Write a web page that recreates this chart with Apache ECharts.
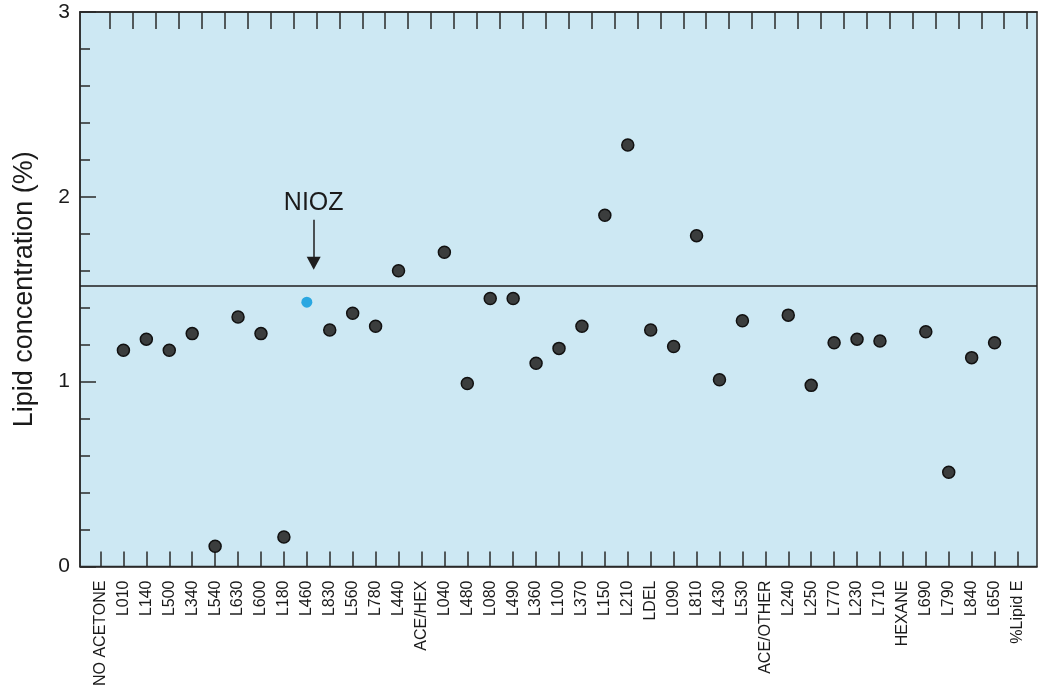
<!DOCTYPE html>
<html>
<head>
<meta charset="utf-8">
<title>Lipid concentration</title>
<script src="https://cdn.jsdelivr.net/npm/echarts@6/dist/echarts.min.js"></script>
<style>
  html, body { margin: 0; padding: 0; background: #fff; }
  #chart { width: 1039px; height: 689px; }
</style>
</head>
<body>
<div id="chart"></div>
<script>
// sample names along the x axis
const categories = ['NO ACETONE', 'L010', 'L140', 'L500', 'L340', 'L540', 'L630', 'L600', 'L180',
    'L460', 'L830', 'L560', 'L780', 'L440', 'ACE/HEX', 'L040', 'L480', 'L080', 'L490', 'L360',
    'L100', 'L370', 'L150', 'L210', 'LDEL', 'L090', 'L810', 'L430', 'L530', 'ACE/OTHER', 'L240',
    'L250', 'L770', 'L230', 'L710', 'HEXANE', 'L690', 'L790', 'L840', 'L650', '%Lipid E'];

// lipid concentration (%) per sample, null = no point (group headers)
const lipidValues = [null, 1.17, 1.23, 1.17, 1.26, 0.11, 1.35, 1.26, 0.16,
    1.43, 1.28, 1.37, 1.30, 1.60, null, 1.70, 0.99, 1.45, 1.45, 1.10,
    1.18, 1.30, 1.90, 2.28, 1.28, 1.19, 1.79, 1.01, 1.33, null, 1.36,
    0.98, 1.21, 1.23, 1.22, null, 1.27, 0.51, 1.13, 1.21, null];

const yTicks = [0, 1, 2, 3];
const referenceLevel = 1.525;   // horizontal line
const highlighted = 'L460';     // NIOZ sample
const arrowFrom = 1.876;
const arrowTo = 1.64;

const chart = echarts.init(document.getElementById('chart'));

const points = [];
lipidValues.forEach((v, i) => {
    if (v === null) return;
    const item = { value: [i, v] };
    if (categories[i] === highlighted) {
        item.itemStyle = { color: '#2aa7e1', borderWidth: 0 };
        item.symbolSize = 11;
    }
    points.push(item);
});

const idx = categories.map((c, i) => i);
const hi = categories.indexOf(highlighted);
const font = '"Liberation Sans", Arial, sans-serif';

const option = {
    animation: false,
    textStyle: { fontFamily: font },
    grid: {
        left: 80, top: 12, right: 2, bottom: 119,
        show: true,
        backgroundColor: '#cde8f3',
        borderColor: '#2a2a2a',
        borderWidth: 1.5
    },
    xAxis: [
        {
            type: 'value',
            position: 'bottom',
            min: -0.894,
            max: 40.85,
            splitLine: { show: false },
            axisLine: { show: true, onZero: false, lineStyle: { color: '#2a2a2a', width: 1.5 } },
            axisTick: {
                show: true, inside: true, length: 15, customValues: idx,
                lineStyle: { color: '#2a2a2a', width: 1.5 }
            },
            axisLabel: {
                customValues: idx,
                rotate: 90,
                margin: 14,
                fontSize: 16,
                color: '#1a1a1a',
                formatter: v => categories[Math.round(v)]
            }
        },
        {
            type: 'value',
            position: 'top',
            min: -0.894,
            max: 40.85,
            splitLine: { show: false },
            axisLine: { show: true, onZero: false, lineStyle: { color: '#2a2a2a', width: 1.5 } },
            axisTick: {
                show: true, inside: true, length: 17, customValues: idx.map(i => i + 0.42),
                lineStyle: { color: '#2a2a2a', width: 1.5 }
            },
            axisLabel: { show: false }
        }
    ],
    yAxis: {
        type: 'value',
        min: 0,
        max: 3,
        interval: 1,
        name: 'Lipid concentration (%)',
        nameLocation: 'middle',
        nameGap: 42,
        nameTextStyle: { fontSize: 27, color: '#1a1a1a', fontFamily: font },
        splitLine: { show: false },
        axisLine: { show: true, onZero: false, lineStyle: { color: '#2a2a2a', width: 1.5 } },
        axisTick: { show: true, inside: true, length: 16, lineStyle: { color: '#2a2a2a', width: 1.5 } },
        minorTick: { show: true, splitNumber: 5, length: 10, lineStyle: { color: '#2a2a2a', width: 1.5 } },
        axisLabel: {
            fontSize: 21,
            color: '#1a1a1a',
            margin: 10,
            formatter: v => (yTicks.indexOf(v) >= 0 ? String(v) : '')
        }
    },
    series: [
        {
            type: 'scatter',
            xAxisIndex: 0,
            data: points,
            symbolSize: 12,
            itemStyle: { color: '#3b3d3d', borderColor: '#111', borderWidth: 1.5, opacity: 1 },
            silent: true,
            markLine: {
                silent: true,
                symbol: ['none', 'none'],
                data: [
                    {
                        yAxis: referenceLevel,
                        label: { show: false },
                        lineStyle: { color: '#1e1e1e', width: 1.5, type: 'solid' }
                    },
                    [
                        {
                            coord: [hi + 0.3, arrowFrom],
                            symbol: 'none',
                            label: {
                                show: true, position: 'start', formatter: 'NIOZ',
                                fontSize: 25, color: '#1a1a1a', distance: 4, fontFamily: font
                            },
                            lineStyle: { color: '#1e1e1e', width: 1.5, type: 'solid' }
                        },
                        {
                            coord: [hi + 0.3, arrowTo],
                            symbol: 'triangle',
                            symbolSize: [14, 13]
                        }
                    ]
                ]
            }
        }
    ]
};

chart.setOption(option);
</script>
</body>
</html>
